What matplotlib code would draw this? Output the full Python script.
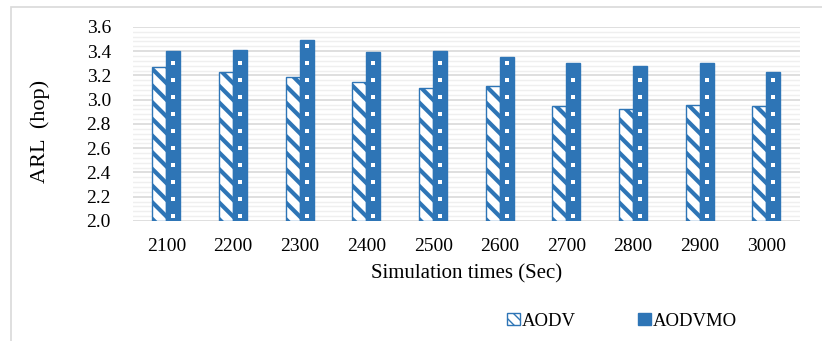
import matplotlib as mpl
import matplotlib.pyplot as plt
import matplotlib.patches as mpatches
import numpy as np
from matplotlib.ticker import MultipleLocator

plt.rcParams['font.family'] = ['Liberation Serif', 'DejaVu Serif']

# Average route length per simulation time
sim_times = ['2100', '2200', '2300', '2400', '2500',
             '2600', '2700', '2800', '2900', '3000']
aodv = [3.27, 3.23, 3.19, 3.15, 3.10, 3.11, 2.95, 2.92, 2.96, 2.95]
aodvmo = [3.40, 3.41, 3.49, 3.39, 3.40, 3.35, 3.30, 3.28, 3.30, 3.23]

blue = '#2E75B6'
ymin = 2.0

fig = plt.figure(figsize=(8.22, 3.41), dpi=100)
ax = fig.add_axes([0.162, 0.352, 0.811, 0.569])

# light frame around the chart area
frame = mpatches.Rectangle((11 / 822, -0.1), 1.0, 1.1 - 7 / 341,
                           transform=fig.transFigure, fill=False,
                           edgecolor='#d9d9d9', linewidth=1.2, zorder=0)
fig.patches.append(frame)

x = np.arange(len(sim_times))
w = 0.21

# AODV: white bars with blue diagonal stripes
with mpl.rc_context({'hatch.linewidth': 3.0}):
    ax.bar(x - w / 2, np.array(aodv) - ymin, w, bottom=ymin,
           facecolor='white', edgecolor=blue, hatch='\\\\',
           linewidth=1.0, zorder=3)
    h1 = mpatches.Patch(facecolor='white', edgecolor=blue, hatch='\\\\\\',
                        linewidth=1.0)

# AODVMO: solid blue with a column of small white dots
ax.bar(x + w / 2, np.array(aodvmo) - ymin, w, bottom=ymin,
       facecolor=blue, edgecolor=blue, linewidth=1.0, zorder=3)
for xi, v in zip(x, aodvmo):
    dots = np.arange(ymin + 0.045, v - 0.03, 0.14)
    ax.plot(np.full(len(dots), xi + w / 2), dots, 's', color='white',
            markersize=2.2, markeredgewidth=0, zorder=4)

ax.set_xlim(-0.5, len(sim_times) - 0.5)
ax.set_ylim(2.0, 3.6)
ax.yaxis.set_major_locator(MultipleLocator(0.2))
ax.yaxis.set_minor_locator(MultipleLocator(0.04))
ax.yaxis.set_major_formatter(plt.FormatStrFormatter('%.1f'))
ax.grid(axis='y', which='major', color='#d9d9d9', linewidth=1.2, zorder=0)
ax.grid(axis='y', which='minor', color='#efefef', linewidth=1.0, zorder=0)
ax.set_axisbelow(True)

for s in ax.spines.values():
    s.set_visible(False)
ax.tick_params(axis='both', which='both', length=0, labelsize=14)
ax.tick_params(axis='y', pad=16)
ax.tick_params(axis='x', pad=12)
ax.set_xticks(x)
ax.set_xticklabels(sim_times)

ax.set_ylabel('ARL  (hop)', fontsize=16)
ax.yaxis.set_label_coords(-0.125, 0.46)
ax.set_xlabel('Simulation times (Sec)', fontsize=15, labelpad=7)

h2 = mpatches.Patch(facecolor=blue, edgecolor=blue, linewidth=1.0)
fig.legend([h1, h2], ['AODV', 'AODVMO'], loc='center',
           bbox_to_anchor=(622 / 822, 1 - 321 / 341), ncol=2,
           frameon=False, fontsize=13.5, handlelength=0.65, handleheight=0.65,
           handletextpad=0.1, columnspacing=3.35)

fig.savefig('out.png', dpi=100)
